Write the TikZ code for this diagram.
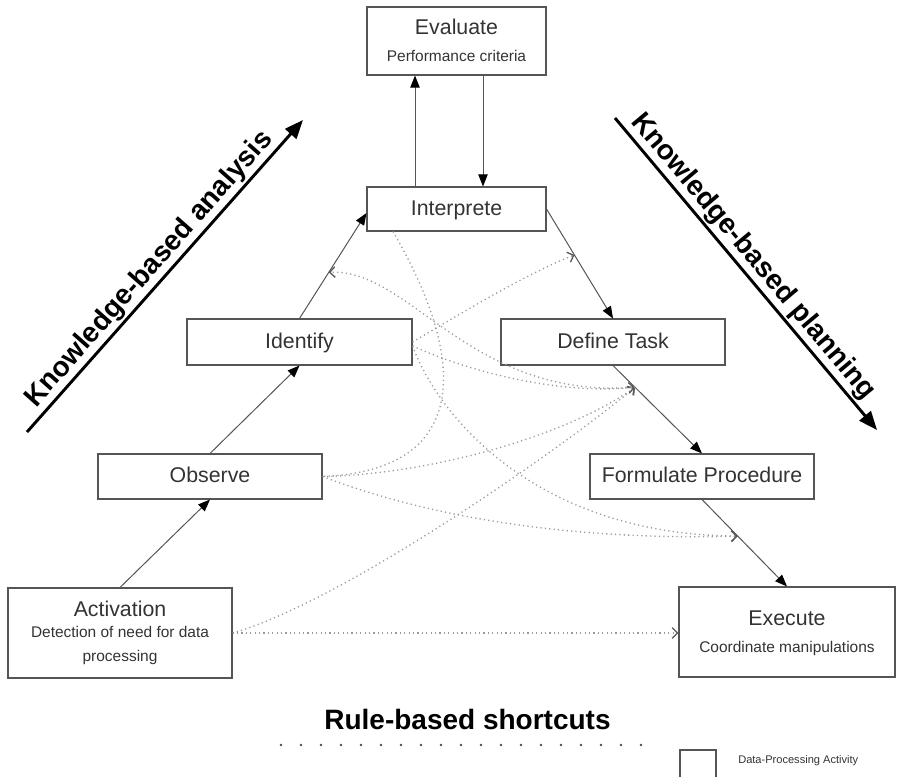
\documentclass[tikz,border=0pt]{standalone}
\usepackage{fontspec}
\setmainfont{Liberation Sans}
\usetikzlibrary{arrows.meta}
\definecolor{boxline}{HTML}{555555}
\definecolor{linkline}{HTML}{555555}
\definecolor{txt}{HTML}{333333}
\definecolor{dotline}{HTML}{9A9A9A}
\begin{document}
\begin{tikzpicture}[x=0.75pt,y=-0.75pt,
  activity/.style={draw=boxline, line width=0.8pt, inner sep=0pt, text=txt,
    font=\fontsize{16}{19}\selectfont, text height=11.5pt, text depth=2.5pt},
  title/.style={text=txt, inner sep=0pt, font=\fontsize{16}{19}\selectfont, anchor=base},
  sub/.style={text=txt, inner sep=0pt, font=\fontsize{11.6}{14}\selectfont, anchor=base},
  flow/.style={draw=linkline, line width=0.75pt,
    -{Triangle[length=9pt,width=7pt,color=black,fill=black]}},
  shortcutline/.style={draw=dotline, line width=1pt, dash pattern=on 0.9pt off 2.4pt},
  shortcut/.style={shortcutline, -{Straight Barb[length=4pt,width=8pt,color=black!65]}},
  axis/.style={line width=2.2pt, -{Triangle[length=14pt,width=11pt]}},
  axislabel/.style={font=\fontsize{21}{25}\selectfont\bfseries, inner sep=0pt, anchor=base},
]
\useasboundingbox (0,0) rectangle (899,776);

% --- data-processing activities ---
\node[activity, minimum width=134.25pt, minimum height=51pt] (evaluate) at (456.5,41) {};
\node[title] (evaluateT) at (456.5,34) {Evaluate};
\node[sub] (evaluateS) at (456.5,61) {Performance criteria};

\node[activity, minimum width=134.25pt, minimum height=33pt] (interprete) at (456.5,209) {Interprete};
\node[activity, minimum width=168.75pt, minimum height=34.5pt] (identify) at (299.5,342) {Identify};
\node[activity, minimum width=168pt, minimum height=34.5pt] (define) at (613,342) {Define Task};
\node[activity, minimum width=168pt, minimum height=33.75pt] (observe) at (210,476.5) {Observe};
\node[activity, minimum width=168pt, minimum height=33.75pt] (formulate) at (702,476.5) {Formulate Procedure};

\node[activity, minimum width=168pt, minimum height=67.5pt] (activation) at (120,633) {};
\node[title] (activationT) at (120,616) {Activation};
\node[sub] (activationS1) at (120,637) {Detection of need for data};
\node[sub] (activationS2) at (120,661) {processing};

\node[activity, minimum width=162pt, minimum height=67.5pt] (execute) at (787,632) {};
\node[title] (executeT) at (787,625) {Execute};
\node[sub] (executeS) at (787,652) {Coordinate manipulations};

% --- main flow of the ladder ---
\coordinate (evUp) at (415,0);
\coordinate (evDown) at (483,0);
\draw[flow] (interprete.north -| evUp) -- (evaluate.south -| evUp);
\draw[flow] (evaluate.south -| evDown) -- (interprete.north -| evDown);
\draw[flow] (activation.north) -- (observe.south);
\draw[flow] (observe.north) -- (identify.south);
\draw[flow] (identify.north) -- coordinate[pos=0.437] (backQ) ([yshift=-3pt]interprete.west);
\draw[flow] (interprete.east) -- coordinate[pos=0.42] (p0) (define.north);
\draw[flow] (define.south) -- coordinate[pos=0.247] (p1) (formulate.north);
\draw[flow] (formulate.south) -- coordinate[pos=0.42] (p2) (execute.north);

% --- rule-based shortcuts ---
\coordinate (ipB) at (393,0);
\draw[shortcut] (activation.east) -- (execute.west |- activation.east);
\draw[shortcut] (activation.east) .. controls (340,603) and (560,450) .. (p1);
\draw[shortcut] (observe.east) .. controls (420,475) and (560,440) .. (p1);
\draw[shortcut] (observe.east) .. controls (450,525) and (600,540) .. (p2);
\draw[shortcutline] (interprete.south -| ipB) .. controls (465,355) and (475,470) .. (observe.east);
\draw[shortcut] (identify.east) .. controls (470,308) and (530,272) .. (p0);
\draw[shortcut] ([yshift=-3pt]identify.east) .. controls (470,372) and (560,395) .. (p1);
\draw[shortcut] ([yshift=-3pt]identify.east) .. controls (440,420) and (540,535) .. (p2);
\draw[shortcut] (p1) .. controls (470,400) and (410,268) .. (backQ);

% --- knowledge-based axes ---
\coordinate (kaS) at (27,432);
\coordinate (kaE) at (303,120);
\draw[axis] (kaS) -- (kaE);
\node[axislabel, rotate=48.5] (kaL) at (154.9,274) {Knowledge-based analysis};
\coordinate (kpS) at (615,118);
\coordinate (kpE) at (877,430);
\draw[axis] (kpS) -- (kpE);
\node[axislabel, rotate=-50] (kpL) at (747.3,261.6) {Knowledge-based planning};

% --- rule-based caption ---
\node[axislabel] (rules) at (467.5,729) {Rule-based shortcuts};
\coordinate (rulesL) at (281,745);
\coordinate (rulesR) at (644,745);
\draw[line width=2.2pt, line cap=round, dash pattern=on 0pt off 15pt, color=black!70] (rulesL) -- (rulesR);

% --- legend ---
\node[draw=boxline, line width=0.8pt, minimum width=27pt, minimum height=22.5pt, inner sep=0pt] (legendbox) at (698,765) {};
\node[anchor=west, inner sep=0pt, font=\fontsize{8.3}{10}\selectfont, text=txt] (legendtext) at (738,761) {Data-Processing Activity};
\end{tikzpicture}
\end{document}
